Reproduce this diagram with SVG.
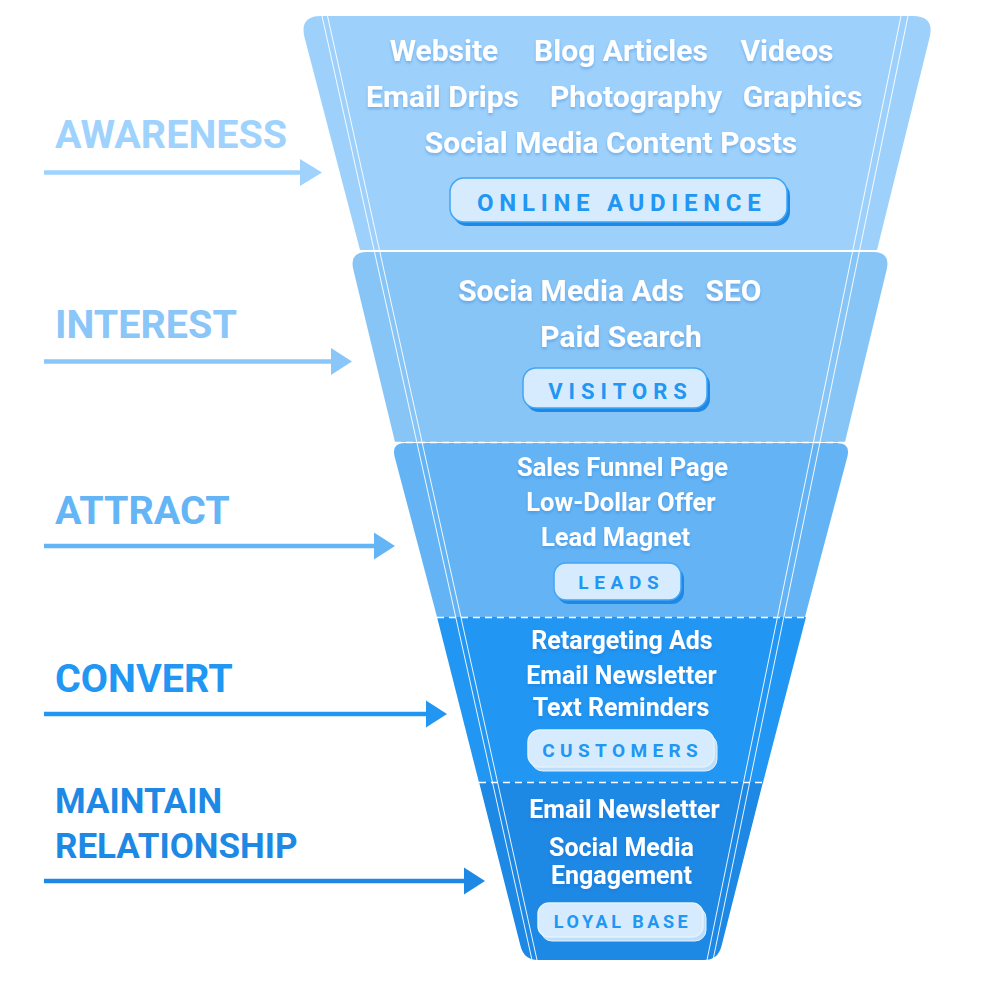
<svg xmlns="http://www.w3.org/2000/svg" width="1000" height="1000" viewBox="0 0 1000 1000">
<defs>
<filter id="ts" x="-10%" y="-30%" width="120%" height="160%">
<feDropShadow dx="0" dy="2" stdDeviation="1.6" flood-color="#1565C0" flood-opacity="0.35"/>
</filter>
<style>
.lbl{font-family:Roboto,"Liberation Sans",sans-serif;font-weight:700;font-size:39.5px}
.lbs{font-family:Roboto,"Liberation Sans",sans-serif;font-weight:700;font-size:35px}
.it{font-family:Roboto,"Liberation Sans",sans-serif;font-weight:700;fill:#fff;text-anchor:middle}
.bt{font-family:Roboto,"Liberation Sans",sans-serif;font-weight:700;fill:#2196F3;text-anchor:middle}
.bg{fill:#D6EBFD;stroke:#42A5F5;stroke-width:1.5}
.bs{fill:#1E88E5}
.bsl{fill:#BBDEFB;stroke:#E3F2FD;stroke-width:1}
.bgl{fill:#D6EBFD;stroke:#E3F2FD;stroke-width:1.5}
.dash{stroke:#fff;stroke-width:1.5;stroke-dasharray:7 5;fill:none}
.thin{stroke:#fff;stroke-width:1;fill:none;opacity:0.9}
</style>
</defs>
<rect width="1000" height="1000" fill="#fff"/>

<g id="funnel">
<g id="seg-awareness">
<path d="M360,250 L304.7,38 Q299,16 321,16 L913,16 Q935,16 929.5,38 L877,250 Z" fill="#9DD1FC"/>
<g filter="url(#ts)">
<text class="it" x="444" y="61" font-size="30">Website</text>
<text class="it" x="621" y="61" font-size="30">Blog Articles</text>
<text class="it" x="787" y="61" font-size="30">Videos</text>
<text class="it" x="442.5" y="107" font-size="30">Email Drips</text>
<text class="it" x="636" y="107" font-size="30">Photography</text>
<text class="it" x="802.5" y="107" font-size="30">Graphics</text>
<text class="it" x="611" y="153" font-size="30">Social Media Content Posts</text>
</g>
</g>
<g id="seg-interest">
<path d="M395,442 L353.4,270 Q349,252 367,252 L873,252 Q891,252 886.6,270 L845,442 Z" fill="#88C5F7"/>
<g filter="url(#ts)">
<text class="it" x="571" y="301" font-size="30">Socia Media Ads</text>
<text class="it" x="733.5" y="301" font-size="30">SEO</text>
<text class="it" x="621" y="347" font-size="30">Paid Search</text>
</g>
</g>
<g id="seg-attract">
<path d="M437,617 L394.7,457 Q391,443 405,443 L837,443 Q851,443 847.3,457 L805,617 Z" fill="#64B4F5"/>
<g filter="url(#ts)">
<text class="it" x="622.5" y="476" font-size="25.5">Sales Funnel Page</text>
<text class="it" x="621" y="511" font-size="25.5">Low-Dollar Offer</text>
<text class="it" x="615.5" y="546" font-size="25.5">Lead Magnet</text>
</g>
</g>
<g id="seg-convert">
<path d="M437,617 L806,617 L763,782.5 L479,782.5 Z" fill="#2196F3"/>
<g filter="url(#ts)">
<text class="it" x="622" y="649" font-size="25">Retargeting Ads</text>
<text class="it" x="621.5" y="684" font-size="25">Email Newsletter</text>
<text class="it" x="621" y="716" font-size="25">Text Reminders</text>
</g>
</g>
<g id="seg-maintain">
<path d="M479,782 L763,782 L721.5,946 Q718,960 704,960 L538,960 Q524,960 520.5,946 Z" fill="#1E88E5"/>
<g filter="url(#ts)">
<text class="it" x="624.5" y="818" font-size="25">Email Newsletter</text>
<text class="it" x="621.5" y="856" font-size="25">Social Media</text>
<text class="it" x="621.5" y="884" font-size="25">Engagement</text>
</g>
</g>

<g id="dividers">
<line class="dash" x1="358" y1="251" x2="879" y2="251"/>
<line class="dash" x1="394" y1="442.5" x2="846" y2="442.5"/>
<line class="dash" x1="437" y1="617.5" x2="805" y2="617.5"/>
<line class="dash" x1="479" y1="782.5" x2="763" y2="782.5"/>
</g>
<g id="guides">
<line class="thin" x1="322" y1="16" x2="532" y2="960"/>
<line class="thin" x1="327.5" y1="16" x2="537" y2="960"/>
<line class="thin" x1="901" y1="16" x2="707" y2="960"/>
<line class="thin" x1="908" y1="16" x2="713" y2="960"/>
</g>

<g id="badge-online-audience">
<rect class="bs" x="453" y="182" width="337" height="44" rx="14"/>
<rect class="bg" x="450" y="178" width="337" height="44" rx="14"/>
<text class="bt" x="621.8" y="210.5" font-size="24" letter-spacing="5.7">ONLINE AUDIENCE</text>
</g>
<g id="badge-visitors">
<rect class="bs" x="526" y="372" width="184" height="40" rx="13"/>
<rect class="bg" x="523" y="368" width="184" height="40" rx="13"/>
<text class="bt" x="620.5" y="398.5" font-size="22" letter-spacing="6">VISITORS</text>
</g>
<g id="badge-leads">
<rect class="bs" x="557" y="567" width="127" height="37" rx="12"/>
<rect class="bg" x="554" y="563" width="127" height="37" rx="12"/>
<text class="bt" x="621.3" y="589" font-size="19" letter-spacing="5.7">LEADS</text>
</g>
<g id="badge-customers">
<rect class="bsl" x="531" y="734" width="186" height="37" rx="12"/>
<rect class="bgl" x="528" y="730" width="186" height="37" rx="12"/>
<text class="bt" x="622.7" y="757" font-size="19" letter-spacing="5.4">CUSTOMERS</text>
</g>
<g id="badge-loyal-base">
<rect class="bsl" x="541" y="907" width="165" height="34" rx="11"/>
<rect class="bgl" x="538" y="903" width="165" height="34" rx="11"/>
<text class="bt" x="622.5" y="928" font-size="18" letter-spacing="3.5">LOYAL BASE</text>
</g>
</g>

<g id="label-awareness"><text class="lbl" x="55" y="148" fill="#9FD3FD">AWARENESS</text></g>
<g id="label-interest"><text class="lbl" x="55" y="338" fill="#8AC6F8">INTEREST</text></g>
<g id="label-attract"><text class="lbl" x="55" y="524" fill="#64B5F6">ATTRACT</text></g>
<g id="label-convert"><text class="lbl" x="55" y="692" fill="#2196F3">CONVERT</text></g>
<g id="label-maintain"><text class="lbs" x="55" y="813" fill="#1E88E5">MAINTAIN</text><text class="lbs" x="55" y="858" fill="#1E88E5">RELATIONSHIP</text></g>

<g id="connectors">
<line x1="44" y1="172.5" x2="302" y2="172.5" stroke="#9FD3FD" stroke-width="4.5"/>
<polygon points="300,159 322,172.5 300,186" fill="#9FD3FD"/>
<line x1="44" y1="361.5" x2="333" y2="361.5" stroke="#8AC6F8" stroke-width="4.5"/>
<polygon points="331,348 352,361.5 331,375" fill="#8AC6F8"/>
<line x1="44" y1="546" x2="376" y2="546" stroke="#64B5F6" stroke-width="4.5"/>
<polygon points="374,532.5 395,546 374,559.5" fill="#64B5F6"/>
<line x1="44" y1="714" x2="428" y2="714" stroke="#2196F3" stroke-width="4.5"/>
<polygon points="426,700.5 447,714 426,727.5" fill="#2196F3"/>
<line x1="44" y1="881" x2="466" y2="881" stroke="#1E88E5" stroke-width="4.5"/>
<polygon points="464,867.5 485,881 464,894.5" fill="#1E88E5"/>
</g>
</svg>
